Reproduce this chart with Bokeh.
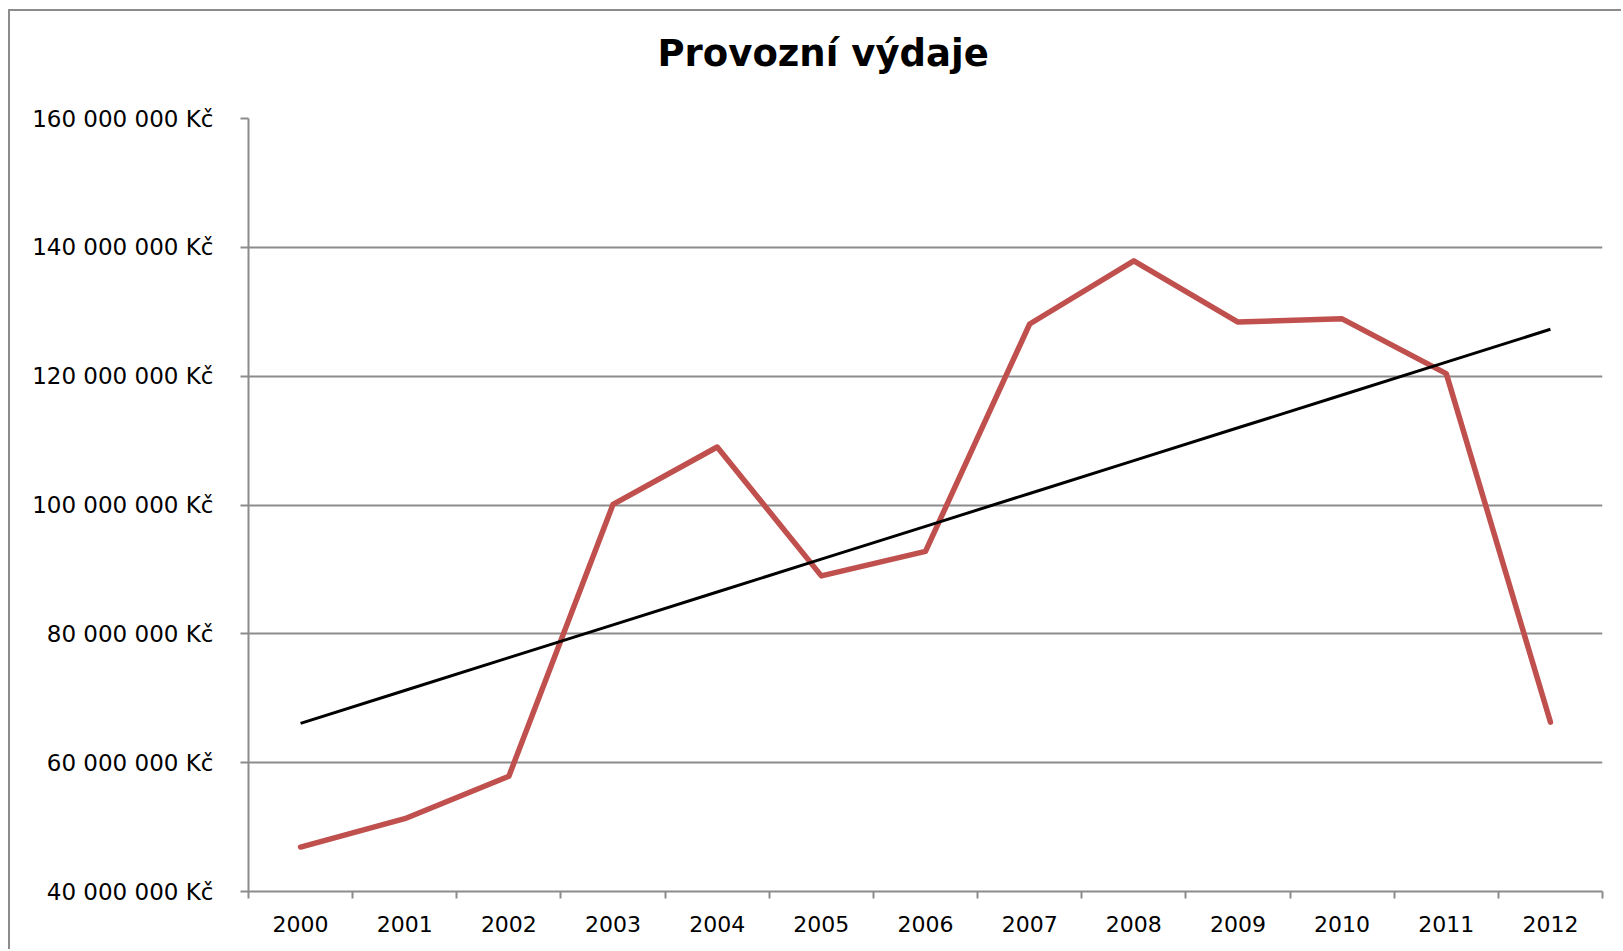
import numpy as np
from bokeh.plotting import figure
from bokeh.models import Range1d, FixedTicker, LinearAxis
from bokeh.embed import file_html
from bokeh.resources import INLINE

# ---- data ----
years = [2000, 2001, 2002, 2003, 2004, 2005, 2006, 2007, 2008, 2009, 2010, 2011, 2012]
expenses = [46.9e6, 51.3e6, 57.9e6, 100.1e6, 109.0e6, 89.0e6, 92.8e6, 128.1e6, 137.9e6,
            128.4e6, 128.9e6, 120.4e6, 66.3e6]
y_ticks = [40e6, 60e6, 80e6, 100e6, 120e6, 140e6, 160e6]
y_tick_labels = ["40 000 000 Kč", "60 000 000 Kč", "80 000 000 Kč", "100 000 000 Kč",
                 "120 000 000 Kč", "140 000 000 Kč", "160 000 000 Kč"]
title_text = "Provozní výdaje"

idx = list(range(len(years)))
# linear trend line (least squares), as in the spreadsheet trendline
slope, intercept = np.polyfit(idx, expenses, 1)
trend = [slope * i + intercept for i in idx]

FONT = "DejaVu Sans"
GRAY = "#8c8c8c"

W, H = 1613, 940
p = figure(width=W, height=H, output_backend="svg", toolbar_location=None,
           x_range=Range1d(-0.5, len(years) - 0.5), y_range=Range1d(40e6, 160e6),
           min_border_left=238, min_border_right=21, min_border_top=107, min_border_bottom=60)
p.styles = {"border-left": "2px solid #8c8c8c", "border-top": "2px solid #8c8c8c",
            "margin-left": "8px", "margin-top": "9px"}
p.outline_line_color = None
p.background_fill_color = "white"
p.border_fill_color = "white"

# x axis (below)
xa = p.below[0]
xa.ticker = FixedTicker(ticks=idx, minor_ticks=[i - 0.5 for i in range(len(years) + 1)])
xa.major_label_overrides = {i: str(y) for i, y in zip(idx, years)}
xa.major_tick_out = 0
xa.major_tick_in = 0
xa.minor_tick_out = 7
xa.minor_tick_in = 0
xa.minor_tick_line_color = GRAY
xa.minor_tick_line_width = 2
xa.axis_line_color = GRAY
xa.axis_line_width = 2
xa.major_label_standoff = 17
xa.major_label_text_font = FONT
xa.major_label_text_font_size = "22px"
xa.major_label_text_color = "black"

# y axis
ya = p.left[0]
ya.ticker = FixedTicker(ticks=y_ticks, minor_ticks=[])
ya.major_label_overrides = {t: l for t, l in zip(y_ticks, y_tick_labels)}
ya.major_tick_out = 8
ya.major_tick_in = 0
ya.major_tick_line_color = GRAY
ya.major_tick_line_width = 2
ya.minor_tick_line_color = None
ya.axis_line_color = GRAY
ya.axis_line_width = 2
ya.major_label_standoff = 27
ya.major_label_text_font = FONT
ya.major_label_text_font_size = "23px"
ya.major_label_text_color = "black"

# blank spacer between the title and the plot area (invisible tick, empty label, no line)
spacer = LinearAxis(ticker=FixedTicker(ticks=[0], minor_ticks=[]), axis_line_color=None,
                    major_tick_out=39, major_tick_in=0, minor_tick_out=0, minor_tick_in=0,
                    major_tick_line_color=None, minor_tick_line_color=None,
                    major_label_standoff=0, major_label_overrides={0: ""},
                    major_label_text_font_size="1px")
p.add_layout(spacer, "above")

p.title.text = title_text
p.title.align = "left"
p.title.offset = 409
p.title.standoff = 10
p.title.text_font = FONT
p.title.text_font_size = "37px"
p.title.text_font_style = "bold"
p.title.text_color = "black"

p.xgrid.visible = False
p.ygrid.ticker = FixedTicker(ticks=y_ticks)
p.ygrid.grid_line_color = GRAY
p.ygrid.grid_line_width = 2

p.line(idx, expenses, line_color="#C0504D", line_width=5.5, line_join="round", line_cap="round")
p.line(idx, trend, line_color="black", line_width=3)

open("out.html", "w").write(file_html(p, INLINE))
